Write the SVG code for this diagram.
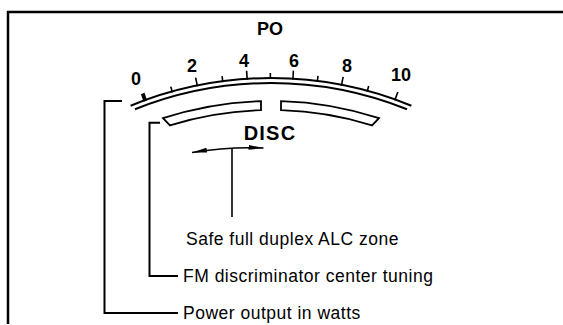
<svg xmlns="http://www.w3.org/2000/svg" width="563" height="325" viewBox="0 0 563 325">
<defs>
<style>
.ln{fill:none;stroke:#000;stroke-width:2;stroke-linecap:butt;stroke-linejoin:miter}
.tk{stroke:#000;stroke-width:1.6}
.num{font-family:"Liberation Sans",Arial,sans-serif;font-weight:bold;font-size:18px;text-anchor:middle;fill:#000}
.ttl{font-family:"Liberation Sans",Arial,sans-serif;font-weight:bold;fill:#000;text-anchor:middle}
.lbl{font-family:"Liberation Sans",Arial,sans-serif;font-size:17.5px;letter-spacing:0.5px;fill:#000}
</style>
<marker id="ah" viewBox="0 0 15 6" refX="15" refY="3" markerWidth="15" markerHeight="6" markerUnits="userSpaceOnUse" orient="auto-start-reverse">
<path d="M0,0.6 L15,3 L0,5.4 z" fill="#000"/>
</marker>
</defs>
<rect width="563" height="325" fill="#fff"/>
<g id="frame">
<path class="ln" d="M7,12 H563 M8,11 V324" style="stroke-width:2.5"/>
</g>
<g id="meter">
<path class="ln" d="M130.6,105.7 A370,370 0 0 1 411.4,105.7"/>
<path class="ln" d="M135,109.3 A365,365 0 0 1 407,109.3"/>
<g id="ticks">
<line class="tk" x1="271" y1="79" x2="271" y2="71" transform="rotate(-19.9 271 448)" style="stroke-width:3.8"/>
<line class="tk" x1="271" y1="79" x2="271" y2="73" transform="rotate(-15.5 271 448)"/>
<line class="tk" x1="271" y1="79" x2="271" y2="70" transform="rotate(-11.5 271 448)"/>
<line class="tk" x1="271" y1="79" x2="271" y2="73" transform="rotate(-7.5 271 448)"/>
<line class="tk" x1="271" y1="79" x2="271" y2="70" transform="rotate(-3.7 271 448)"/>
<line class="tk" x1="271" y1="79" x2="271" y2="73" transform="rotate(-0.1 271 448)"/>
<line class="tk" x1="271" y1="79" x2="271" y2="70" transform="rotate(3.4 271 448)"/>
<line class="tk" x1="271" y1="79" x2="271" y2="73" transform="rotate(7.2 271 448)"/>
<line class="tk" x1="271" y1="79" x2="271" y2="70" transform="rotate(11 271 448)"/>
<line class="tk" x1="271" y1="79" x2="271" y2="73" transform="rotate(15.1 271 448)"/>
<line class="tk" x1="271" y1="79" x2="271" y2="70" transform="rotate(19.6 271 448)"/>
</g>
<g id="scale-labels">
<text class="num" x="136" y="85">0</text>
<text class="num" x="192" y="72">2</text>
<text class="num" x="244" y="67">4</text>
<text class="num" x="294" y="67">6</text>
<text class="num" x="347" y="72">8</text>
<text class="num" x="401" y="81">10</text>
</g>
<text class="ttl" x="270" y="35" style="font-size:18px">PO</text>
<g id="disc-zone">
<path class="ln" style="stroke-width:1.8" d="M163,118.2 A347,347 0 0 1 261,101.1 L261,110.2 A338,338 0 0 0 170,125.4 Z"/>
<path class="ln" style="stroke-width:1.8" d="M281,101.1 A347,347 0 0 1 379,118.2 L372,125.4 A338,338 0 0 0 281,110.2 Z"/>
</g>
<text class="ttl" x="270" y="140" style="font-size:20px;letter-spacing:1.2px">DISC</text>
</g>
<g id="connectors">
<path class="ln" style="stroke-width:1.6" d="M192,152.5 Q228,146.5 263.5,148" marker-start="url(#ah)" marker-end="url(#ah)"/>
<path class="ln" style="stroke-width:1.6" d="M232,148 V217"/>
<path class="ln" d="M160,122.7 H149.5 V276 H178"/>
<path class="ln" d="M122,101 H104.5 V313 H178"/>
</g>
<g id="label-safe"><text class="lbl" x="186" y="245">Safe full duplex ALC zone</text></g>
<g id="label-fm"><text class="lbl" x="183" y="281.5">FM discriminator center tuning</text></g>
<g id="label-po"><text class="lbl" x="183" y="318.5">Power output in watts</text></g>
</svg>
